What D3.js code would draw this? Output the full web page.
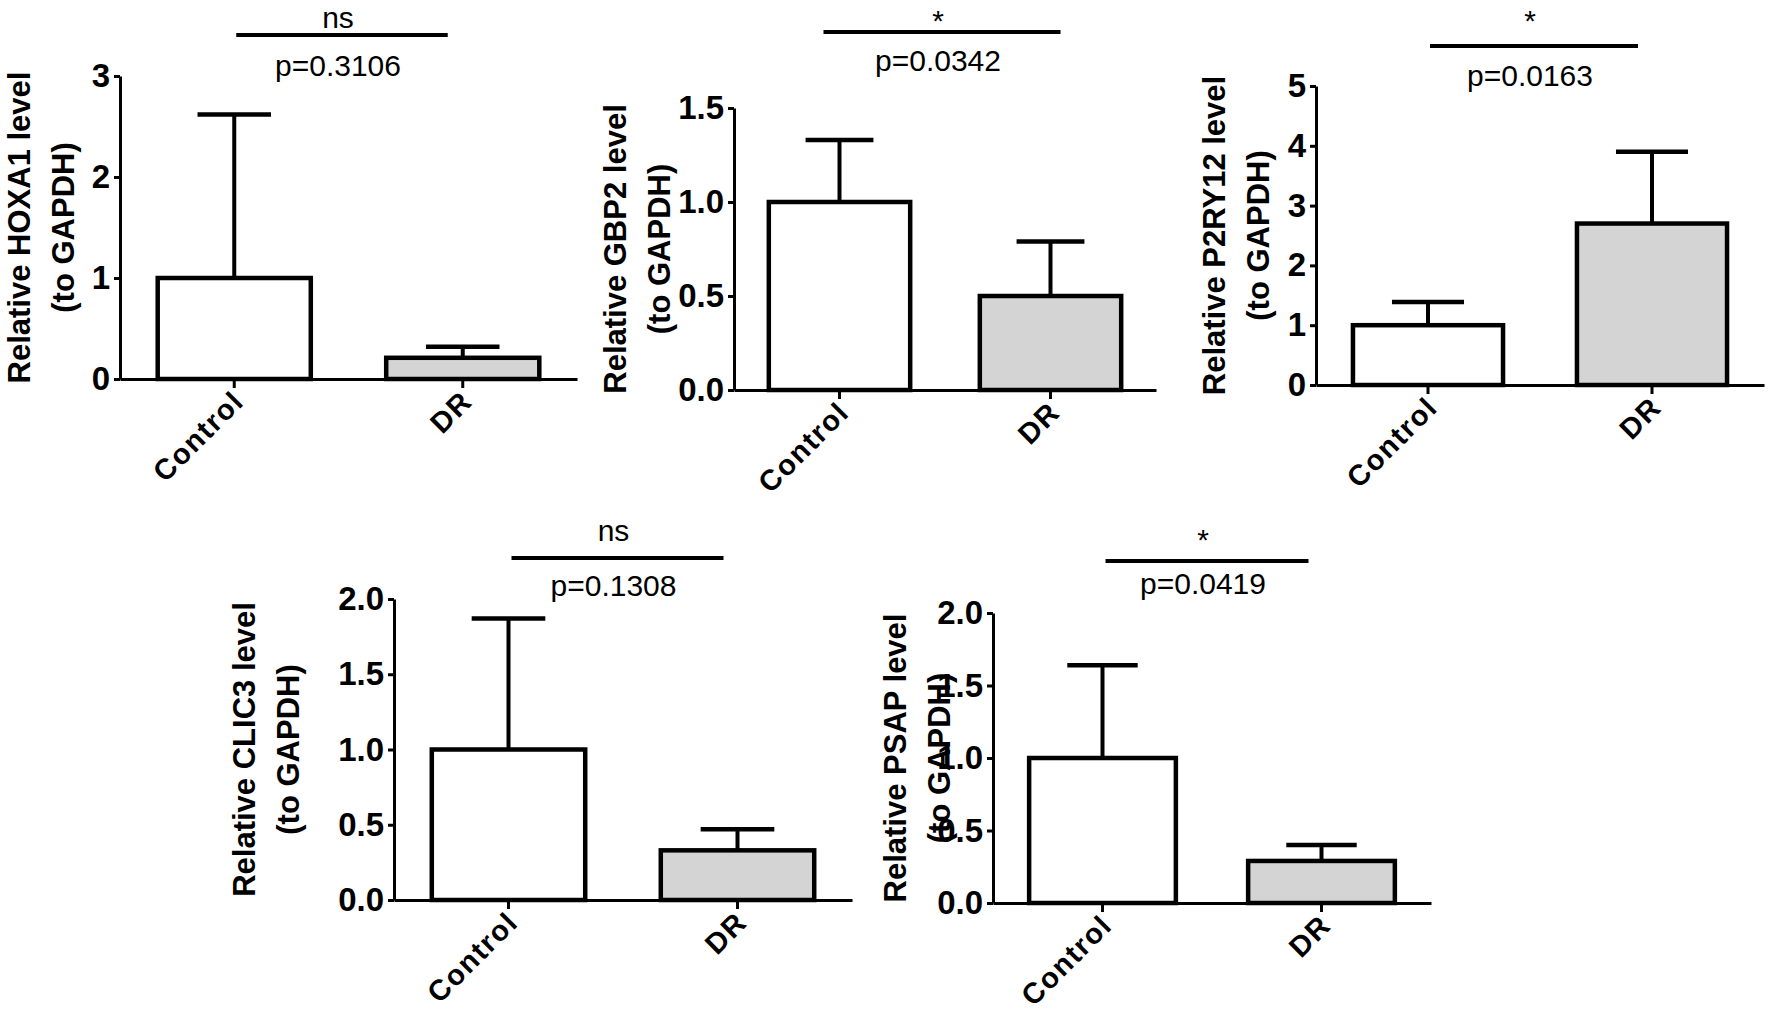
<!DOCTYPE html>
<html lang="en">
  <head>
    <meta charset="utf-8" />
    <title>Relative expression, Control vs DR</title>
    <script src="https://cdn.jsdelivr.net/npm/d3@7/dist/d3.min.js"></script>
    <style>
      body { margin: 0; background: white; }
      text { font-family: "Liberation Sans", Arial, sans-serif; fill: black; }
    </style>
  </head>
  <body>
    <script>
// values
var genes = ["HOXA1", "GBP2", "P2RY12", "CLIC3", "PSAP"];
var groups = ["Control", "DR"];
var controlMean = [1.0, 1.0, 1.0, 1.0, 1.0];
var controlTop = [2.62, 1.33, 1.39, 1.87, 1.64];   // top of error bar
var drMean = [0.21, 0.50, 2.70, 0.33, 0.29];
var drTop = [0.32, 0.79, 3.90, 0.47, 0.40];
var yMax = [3, 1.5, 5, 2, 2];
var yTicks = [
  [0, 1, 2, 3],
  [0, 0.5, 1, 1.5],
  [0, 1, 2, 3, 4, 5],
  [0, 0.5, 1, 1.5, 2],
  [0, 0.5, 1, 1.5, 2]
];
var sigMarks = ["ns", "*", "*", "ns", "*"];
var pLabels = ["p=0.3106", "p=0.0342", "p=0.0163", "p=0.1308", "p=0.0419"];

var w = 1772;
var h = 1012;

// panel placement (px)
var panels = [
  { x0: 120, x1: 577, y0: 76, y1: 379, lab: 74, bl: 2, br: -15, by: 35, my: 28, py: 76 },
  { x0: 734, x1: 1156, y0: 108, y1: 390, lab: 670, bl: -16, br: 10, by: 32, my: 31, py: 71 },
  { x0: 1316, x1: 1764, y0: 86, y1: 385, lab: 1269, bl: 2, br: -14, by: 46, my: 31, py: 86 },
  { x0: 394, x1: 852, y0: 599, y1: 900, lab: 299, bl: 3, br: -14, by: 558, my: 541, py: 596 },
  { x0: 993, x1: 1431, y0: 613, y1: 903, lab: 950, bl: 3, br: -13, by: 561, my: 550, py: 594 }
];

var svg = d3.select("body")
            .append("svg")
            .attr("width", w)
            .attr("height", h);

panels.forEach(function(p, i) {
  var g = svg.append("g").attr("class", "panel");

  var x = d3.scaleBand()
            .domain(groups)
            .range([p.x0, p.x1])
            .paddingInner(0.33)
            .paddingOuter(0.165);
  var y = d3.scaleLinear()
            .domain([0, yMax[i]])
            .range([p.y1, p.y0]);

  var rows = [
    { group: "Control", mean: controlMean[i], top: controlTop[i], fill: "white" },
    { group: "DR", mean: drMean[i], top: drTop[i], fill: "#d4d4d4" }
  ];
  var cx = function(d) { return x(d.group) + x.bandwidth() / 2; };
  var capW = x.bandwidth() * 0.48;

  // error bars (behind the bar outline)
  g.selectAll("line.err")
   .data(rows)
   .enter()
   .append("line")
   .attr("class", "err")
   .attr("x1", cx)
   .attr("x2", cx)
   .attr("y1", function(d) { return y(d.mean); })
   .attr("y2", function(d) { return y(d.top); })
   .attr("stroke", "black")
   .attr("stroke-width", 4);
  g.selectAll("line.cap")
   .data(rows)
   .enter()
   .append("line")
   .attr("class", "cap")
   .attr("x1", function(d) { return cx(d) - capW / 2; })
   .attr("x2", function(d) { return cx(d) + capW / 2; })
   .attr("y1", function(d) { return y(d.top); })
   .attr("y2", function(d) { return y(d.top); })
   .attr("stroke", "black")
   .attr("stroke-width", 4.5);

  g.selectAll("rect")
   .data(rows)
   .enter()
   .append("rect")
   .attr("x", function(d) { return x(d.group); })
   .attr("y", function(d) { return y(d.mean); })
   .attr("width", x.bandwidth())
   .attr("height", function(d) { return y(0) - y(d.mean); })
   .attr("fill", function(d) { return d.fill; })
   .attr("stroke", "black")
   .attr("stroke-width", 4.5);

  // y axis
  var fmt = yTicks[i][1] % 1 === 0 ? d3.format("d") : d3.format(".1f");
  var ya = g.append("g")
            .attr("transform", "translate(" + p.x0 + ",0)")
            .call(d3.axisLeft(y)
                    .tickValues(yTicks[i])
                    .tickFormat(fmt)
                    .tickSize(6)
                    .tickSizeOuter(0)
                    .tickPadding(4));
  ya.select(".domain").attr("stroke-width", 3);
  ya.selectAll(".tick line").attr("stroke-width", 3);
  ya.selectAll(".tick text")
    .attr("font-size", "33px")
    .attr("font-weight", "bold")
    .attr("fill", "black")
    .style("font-family", "'Liberation Sans', Arial, sans-serif");

  // x axis
  var xa = g.append("g")
            .attr("transform", "translate(0," + p.y1 + ")")
            .call(d3.axisBottom(x).tickSize(9).tickSizeOuter(0));
  xa.select(".domain").attr("stroke-width", 3);
  xa.selectAll(".tick line").attr("stroke-width", 3);
  xa.selectAll(".tick text").remove();
  g.selectAll("text.xlab")
   .data(groups)
   .enter()
   .append("text")
   .attr("class", "xlab")
   .attr("transform", function(d) {
     return "translate(" + (x(d) + x.bandwidth() / 2 + 4) + "," + (p.y1 + 17) + ") rotate(-45)";
   })
   .attr("text-anchor", "end")
   .attr("dy", "0.35em")
   .attr("font-size", "29px")
   .attr("font-weight", "bold")
   .attr("letter-spacing", "1.5px")
   .text(function(d) { return d; });

  // y label, two lines
  var midY = (p.y0 + p.y1) / 2;
  var yl = ["Relative " + genes[i] + " level", "(to GAPDH)"];
  g.selectAll("text.ylab")
   .data(yl)
   .enter()
   .append("text")
   .attr("class", "ylab")
   .attr("transform", function(d, k) {
     return "translate(" + (p.lab - 44 * (1 - k)) + "," + midY + ") rotate(-90)";
   })
   .attr("text-anchor", "middle")
   .attr("font-size", "31px")
   .attr("font-weight", "bold")
   .text(function(d) { return d; });

  // significance bracket
  var bx1 = x("Control") + x.bandwidth() / 2 + p.bl;
  var bx2 = x("DR") + x.bandwidth() / 2 + p.br;
  g.append("line")
   .attr("x1", bx1)
   .attr("x2", bx2)
   .attr("y1", p.by)
   .attr("y2", p.by)
   .attr("stroke", "black")
   .attr("stroke-width", 4);
  var bmid = (bx1 + bx2) / 2 - 4;
  g.append("text")
   .attr("x", bmid)
   .attr("y", p.my)
   .attr("text-anchor", "middle")
   .attr("font-size", "30px")
   .text(sigMarks[i]);
  g.append("text")
   .attr("x", bmid)
   .attr("y", p.py)
   .attr("text-anchor", "middle")
   .attr("font-size", "30px")
   .text(pLabels[i]);
});
    </script>
  </body>
</html>
